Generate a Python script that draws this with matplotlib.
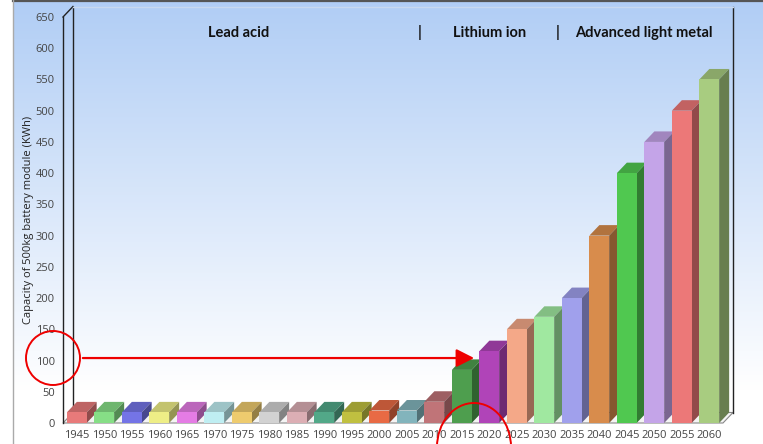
import numpy as np
import matplotlib.pyplot as plt
from matplotlib.patches import Polygon, Ellipse, FancyArrowPatch
from matplotlib.colors import to_rgb

years = [1945, 1950, 1955, 1960, 1965, 1970, 1975, 1980, 1985, 1990, 1995, 2000,
         2005, 2010, 2015, 2020, 2025, 2030, 2035, 2040, 2045, 2050, 2055, 2060]
capacity = [17, 17, 17, 17, 17, 17, 17, 17, 17, 17, 17, 20,
            20, 34, 85, 115, 150, 170, 200, 300, 400, 450, 500, 550]
front_colors = ['#e87a7a', '#86de86', '#7474e6', '#eeee86', '#e47ce4', '#bfeef2',
                '#eecb6e', '#d2d2d2', '#dcaeb4', '#52a888', '#c0c040', '#e86a44',
                '#82b4bc', '#c07478', '#4e9e4e', '#b044b8', '#f4a888', '#a0e8a0',
                '#a0a0ec', '#d88c4c', '#50c850', '#c4a4e8', '#ec7878', '#a8cc80']
eras = ['Lead acid', '|', 'Lithium ion', '|', 'Advanced light metal']
era_x = [239, 420, 490, 558, 644]

W, H = 763, 444
fig = plt.figure(figsize=(W / 100, H / 100), dpi=100)

# background gradient, pixel coordinates
bg = fig.add_axes([0, 0, 1, 1], zorder=0)
bg.set_xlim(0, W)
bg.set_ylim(H, 0)
bg.axis('off')
top_c = np.array(to_rgb('#b0cdf5'))
t = np.clip(np.linspace(0, 1, H) / 0.88, 0, 1)[:, None, None]
grad = top_c * (1 - t) + np.ones(3) * t
bg.imshow(grad, extent=(13, W, H, 0), aspect='auto')
bg.plot([13, W], [0.8, 0.8], color='#555555', lw=1.6)
bg.plot([13, 13], [0, H], color='#aaaaaa', lw=1)

# main axes = front plane of the 3d box
x0, x1, y0, y1 = 63, 723, 423, 17
ax = fig.add_axes([x0 / W, 1 - y0 / H, (x1 - x0) / W, (y0 - y1) / H], zorder=1)
ax.patch.set_alpha(0)
n = len(years)
ax.set_xlim(-0.5, n - 0.5)
ax.set_ylim(0, 650)
dx = 10 / 27.5
dy = 10.5 / (406 / 650)

wall = '#222222'
L, R = -0.5, n - 0.5
kw = dict(clip_on=False, lw=1.0, zorder=2)
ax.plot([L + dx, L + dx], [dy, 650 + dy], color=wall, **kw)
ax.plot([R + dx, R + dx], [dy, 650 + dy], color=wall, **kw)
ax.plot([L, L + dx], [650, 650 + dy], color=wall, **kw)
ax.plot([L + dx, R + dx], [650 + dy, 650 + dy], color='#c8d8ee', **kw)
floor = Polygon([(L, 0), (R, 0), (R + dx, dy), (L + dx, dy)], closed=True,
                facecolor='#f4f4f4', edgecolor='#888888', lw=0.8, clip_on=False, zorder=1.5)
ax.add_patch(floor)
ax.plot([L, L], [0, 650], color=wall, **kw)

# bars: front face via ax.bar, top and side faces as polygons
bw = 0.72
xs = np.arange(n)
bars = ax.bar(xs, capacity, width=bw, color=front_colors, linewidth=0, clip_on=False)
for i, (b, v, c) in enumerate(zip(bars, capacity, front_colors)):
    b.set_zorder(3 + i)
    rgb = np.array(to_rgb(c))
    xl, xr = i - bw / 2, i + bw / 2
    top = Polygon([(xl, v), (xr, v), (xr + dx, v + dy), (xl + dx, v + dy)],
                  closed=True, facecolor=rgb * 0.82, edgecolor='none',
                  clip_on=False, zorder=2.5 + i)
    side = Polygon([(xr, 0), (xr + dx, dy), (xr + dx, v + dy), (xr, v)],
                   closed=True, facecolor=rgb * 0.62, edgecolor='none',
                   clip_on=False, zorder=2.5 + i)
    ax.add_patch(top)
    ax.add_patch(side)

for s in ['top', 'right', 'bottom', 'left']:
    ax.spines[s].set_visible(False)
ax.set_yticks(range(0, 651, 50))
ax.set_xticks(xs)
ax.set_xticklabels([str(y) for y in years])
ax.tick_params(axis='both', length=0, labelsize=8, labelcolor='#444444',
               labelfontfamily='Open Sans')
ax.tick_params(axis='y', pad=6)
ax.tick_params(axis='x', pad=5)
ax.set_ylabel('Capacity of 500kg battery module (KWh)', fontsize=8,
              family='Open Sans', color='#222222')
ax.yaxis.set_label_coords(-0.044, 0.5)

# arrow from the 100 mark to the 2020 bar
arrow = FancyArrowPatch((0.12, 104), (14.55, 104),
                        arrowstyle='-|>,head_length=0.77,head_width=0.39',
                        mutation_scale=14, color='#ee0000', lw=1.6,
                        clip_on=False, zorder=50)
ax.add_patch(arrow)

for txt, px in zip(eras, era_x):
    fig.text(px / W, 1 - 33 / H, txt, ha='center', va='center', fontsize=10.5,
             fontweight='bold', family='Lato', color='#111111')

# overlay for the circled marks
ov = fig.add_axes([0, 0, 1, 1], zorder=5)
ov.set_xlim(0, W)
ov.set_ylim(H, 0)
ov.axis('off')
ov.patch.set_alpha(0)
ov.add_patch(Ellipse((53, 358), 54, 54, fill=False, edgecolor='#ee0000', lw=1.4))
ov.add_patch(Ellipse((474, 447), 74, 88, fill=False, edgecolor='#ee0000', lw=1.4))

fig.savefig('out.png', dpi=100)
